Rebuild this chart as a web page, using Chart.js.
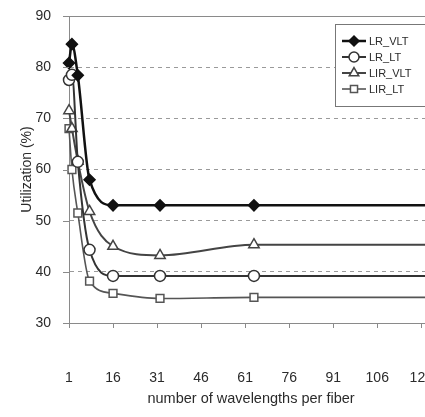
<!DOCTYPE html>
<html>
<head>
<meta charset="utf-8">
<script src="https://cdn.jsdelivr.net/npm/chart.js"></script>
<style>
  html, body { margin: 0; padding: 0; background: #fff; overflow: hidden; }
  #wrap { width: 519px; height: 417px; }
  canvas { display: block; }
</style>
</head>
<body>
<div id="wrap"><canvas id="chart" width="519" height="417" style="width:519px;height:417px"></canvas></div>
<script>
// data
const wavelengths = [1, 2, 4, 8, 16, 32, 64, 128];
const lrVlt = [80.8, 84.5, 78.4, 58, 53, 53, 53, 53];
const lrLt = [77.5, 78.5, 61.5, 44.3, 39.2, 39.2, 39.2, 39.2];
const lirVlt = [71.5, 68, 61.6, 51.8, 45, 43.2, 45.3, 45.3];
const lirLt = [68, 60, 51.5, 38.2, 35.8, 34.8, 35, 35];
const xTicks = [1, 16, 31, 46, 61, 76, 91, 106, 121, 136];
const yTicks = [30, 40, 50, 60, 70, 80, 90];

const textColor = "#2b2b2b";
const axisColor = "#8a8a8a";
const fam = "'Liberation Sans', Arial, sans-serif";

const pts = (ys) => wavelengths.map((x, i) => ({ x: x, y: ys[i] }));

const series = [
  { label: "LR_VLT", data: pts(lrVlt), color: "#111", width: 2.5, style: "rectRot", fill: "#111", r: 5.5 },
  { label: "LR_LT", data: pts(lrLt), color: "#333", width: 2, style: "circle", fill: "#fff", r: 5.5 },
  { label: "LIR_VLT", data: pts(lirVlt), color: "#444", width: 2, style: "triangle", fill: "#fff", r: 6 },
  { label: "LIR_LT", data: pts(lirLt), color: "#555", width: 1.6, style: "rect", fill: "#fff", r: 5.5 },
];

// legend box inside the plot, top right
const boxLegend = {
  id: "boxLegend",
  afterDatasetsDraw(chart) {
    const ctx = chart.ctx;
    const x0 = 335, y0 = 24, w = 110, h = 82;
    ctx.save();
    ctx.fillStyle = "#fff";
    ctx.fillRect(x0, y0, w, h);
    ctx.strokeStyle = "#777";
    ctx.lineWidth = 1;
    ctx.strokeRect(x0 + 0.5, y0 + 0.5, w, h);
    ctx.font = "11px " + fam;
    ctx.textBaseline = "middle";
    series.forEach((s, i) => {
      const y = 41 + i * 16;
      ctx.strokeStyle = s.color;
      ctx.lineWidth = s.width;
      ctx.beginPath();
      ctx.moveTo(342, y);
      ctx.lineTo(366, y);
      ctx.stroke();
      if (Chart.helpers && Chart.helpers.drawPoint) {
        ctx.fillStyle = s.fill;
        ctx.lineWidth = 1.5;
        Chart.helpers.drawPoint(ctx, { pointStyle: s.style, radius: s.r - 0.5, rotation: 0, borderWidth: 1.5 }, 354, y);
      }
      ctx.fillStyle = textColor;
      ctx.fillText(s.label, 369, y + 0.5);
    });
    ctx.restore();
  },
};

// solid line on top of the plot (y = 90) and short y tick marks
const frame = {
  id: "frame",
  afterDraw(chart) {
    const a = chart.chartArea;
    const ctx = chart.ctx;
    const y = chart.scales.y;
    ctx.save();
    ctx.strokeStyle = axisColor;
    ctx.lineWidth = 1;
    ctx.beginPath();
    ctx.moveTo(a.left, Math.round(a.top) + 0.5);
    ctx.lineTo(a.right, Math.round(a.top) + 0.5);
    yTicks.forEach((v) => {
      const py = Math.round(y.getPixelForValue(v)) + 0.5;
      ctx.moveTo(a.left - 6, py);
      ctx.lineTo(a.left, py);
    });
    ctx.stroke();
    ctx.restore();
  },
};

new Chart(document.getElementById("chart").getContext("2d"), {
  type: "line",
  data: {
    datasets: series.map((s) => ({
      label: s.label,
      data: s.data,
      borderColor: s.color,
      borderWidth: s.width,
      pointStyle: s.style,
      pointRadius: s.r,
      pointBackgroundColor: s.fill,
      pointBorderColor: s.color,
      pointBorderWidth: 1.5,
      cubicInterpolationMode: "monotone",
      clip: false,
    })),
  },
  options: {
    responsive: false,
    animation: false,
    layout: { padding: { top: 16, right: 15, left: 0, bottom: 0 } },
    plugins: { legend: { display: false }, tooltip: { enabled: false } },
    scales: {
      x: {
        type: "linear",
        min: 1,
        max: 136,
        afterBuildTicks: (s) => { s.ticks = xTicks.map((v) => ({ value: v })); },
        afterFit: (s) => { s.height = 94; },
        grid: { drawOnChartArea: false, drawTicks: true, tickLength: 5, color: axisColor },
        border: { color: axisColor, width: 1 },
        ticks: { color: textColor, padding: 42, maxRotation: 0, font: { family: fam, size: 14 } },
        title: {
          display: true,
          text: "number of wavelengths per fiber        ",
          color: textColor,
          padding: { top: 0, bottom: 9 },
          font: { family: fam, size: 14.5 },
        },
      },
      y: {
        min: 30,
        max: 90,
        afterBuildTicks: (s) => { s.ticks = yTicks.map((v) => ({ value: v })); },
        afterFit: (s) => { s.width = 69; },
        grid: {
          color: (c) => (c.tick && (c.tick.value === 30 || c.tick.value === 90) ? "rgba(0,0,0,0)" : "#9a9a9a"),
          tickColor: "rgba(0,0,0,0)",
          tickLength: 18,
          drawTicks: true,
        },
        border: { color: axisColor, width: 1, dash: [4, 4] },
        ticks: { color: textColor, padding: 0, font: { family: fam, size: 14 } },
        title: {
          display: true,
          text: "Utilization (%)",
          color: textColor,
          padding: { top: 19, bottom: 0 },
          font: { family: fam, size: 14 },
        },
      },
    },
  },
  plugins: [frame, boxLegend],
});
</script>
</body>
</html>
